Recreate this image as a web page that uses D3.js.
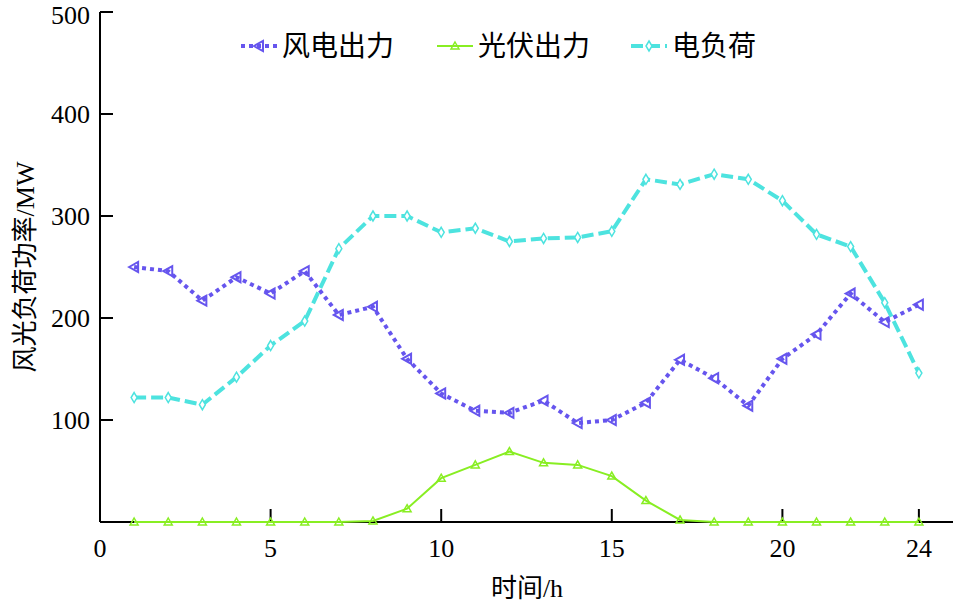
<!DOCTYPE html><html><head><meta charset="utf-8"><script src="https://cdn.jsdelivr.net/npm/d3@7"></script>
<style>body{margin:0;background:#fff}text{font-family:"Liberation Serif","Noto Sans CJK SC",serif}</style></head><body>
<svg id="c" width="959" height="608"></svg>
<script>
const hours=d3.range(1,25);
const wind=[250,246,217,240,224,246,203,211,160,126,109,107,119,97,100,117,159,141,114,160,184,224,196,213];
const pv=[0,0,0,0,0,0,0,1,13,43,56,69,58,56,45,21,2,0,0,0,0,0,0,0];
const load=[122,122,115,142,173,197,268,300,300,284,288,275,278,279,285,336,331,341,336,315,282,270,215,146];
const xTicks=[0,5,10,15,20,24], yTicks=[100,200,300,400,500];
const svg=d3.select("#c");
const x=d3.scaleLinear().domain([0,25]).range([100,953]);
const y=d3.scaleLinear().domain([0,500]).range([522,12]);
const g=svg.append("g");
g.append("line").attr("x1",100).attr("x2",100).attr("y1",12).attr("y2",522).attr("stroke","#000").attr("stroke-width",2);
g.append("line").attr("x1",100).attr("x2",953).attr("y1",522).attr("y2",522).attr("stroke","#000").attr("stroke-width",2);
yTicks.forEach(t=>{g.append("line").attr("x1",100).attr("x2",113).attr("y1",y(t)).attr("y2",y(t)).attr("stroke","#000").attr("stroke-width",2);
 g.append("text").attr("x",90).attr("y",Math.max(y(t)+9,24)).attr("text-anchor","end").attr("font-size",26).text(t);});
xTicks.forEach(t=>{if(t>0)g.append("line").attr("x1",x(t)).attr("x2",x(t)).attr("y1",522).attr("y2",509).attr("stroke","#000").attr("stroke-width",2);
 g.append("text").attr("x",x(t)).attr("y",557).attr("text-anchor","middle").attr("font-size",26).text(t);});
svg.append("text").attr("x",527).attr("y",597).attr("text-anchor","middle").attr("font-size",26).text("时间/h");
svg.append("text").attr("transform","translate(34,267) rotate(-90)").attr("text-anchor","middle").attr("font-size",26).text("风光负荷功率/MW");
const line=d3.line().x((d,i)=>x(hours[i])).y(d=>y(d));
const series=[{v:wind,c:"#6655ee",dash:"4,4",w:4,m:"tri-left",name:"风电出力"},{v:pv,c:"#88ee22",dash:null,w:2,m:"tri-up",name:"光伏出力"},{v:load,c:"#4de3df",dash:"12,5",w:4,m:"diamond",name:"电负荷"}];
function marker(sel,m,c){
 if(m==="tri-left")sel.append("path").attr("d","M-5,0L4,-5L4,5Z").attr("fill","none").attr("stroke",c).attr("stroke-width",2);
 else if(m==="tri-up")sel.append("path").attr("d","M0,-4L4,3L-4,3Z").attr("fill","none").attr("stroke",c).attr("stroke-width",1.5);
 else sel.append("path").attr("d","M0,-5L3,0L0,5L-3,0Z").attr("fill","#fff").attr("stroke",c).attr("stroke-width",1.5);
}
series.forEach(s=>{
 svg.append("path").datum(s.v).attr("d",line).attr("fill","none").attr("stroke",s.c).attr("stroke-width",s.w).attr("stroke-dasharray",s.dash);
 s.v.forEach((d,i)=>marker(svg.append("g").attr("transform",`translate(${x(hours[i])},${y(d)})`),s.m,s.c));
});
const lx=[241,437,631];
series.forEach((s,i)=>{
 const lg=svg.append("g");
 lg.append("line").attr("x1",lx[i]).attr("x2",lx[i]+36).attr("y1",46).attr("y2",46).attr("stroke",s.c).attr("stroke-width",s.w).attr("stroke-dasharray",s.dash);
 marker(lg.append("g").attr("transform",`translate(${lx[i]+18},46)`),s.m,s.c);
 lg.append("text").attr("x",lx[i]+41).attr("y",56).attr("font-size",28).text(s.name);
});
</script></body></html>
